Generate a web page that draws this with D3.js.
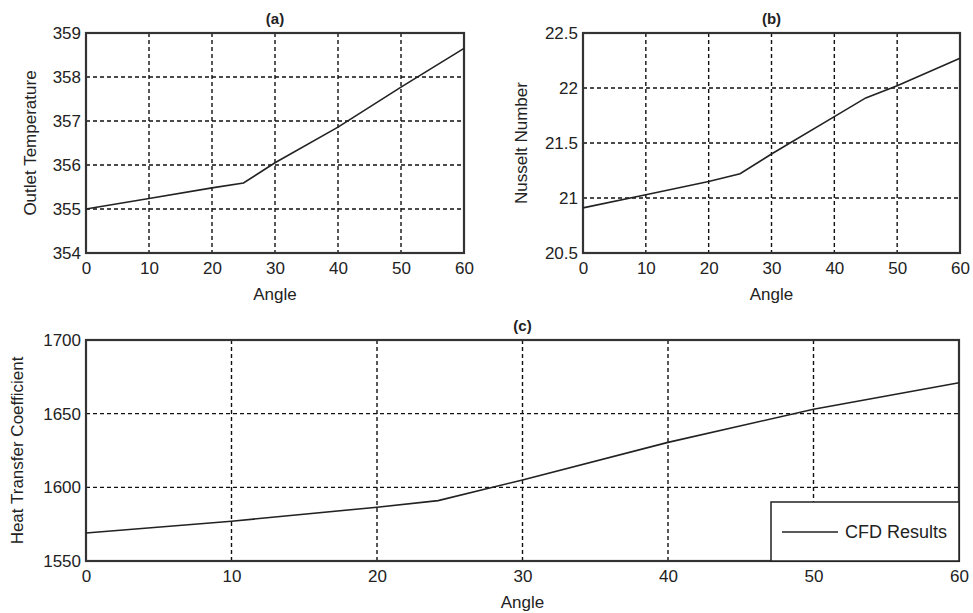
<!DOCTYPE html>
<html>
<head>
<meta charset="utf-8">
<script src="https://cdn.jsdelivr.net/npm/d3@7"></script>
<style>
  body { margin: 0; background: #fff; }
  svg text { font-family: "Liberation Sans", Arial, sans-serif; fill: #222; }
</style>
</head>
<body>
<div id="chart"></div>
<script>
// DATA

const angleTicks = [0, 10, 20, 30, 40, 50, 60];

// (a) outlet temperature
const tempAngle = [0, 10, 20, 25, 30, 40, 50, 60];
const tempValue = [355.0, 355.24, 355.48, 355.59, 356.05, 356.86, 357.77, 358.65];
const tempTicks = [354, 355, 356, 357, 358, 359];

// (b) nusselt number
const nuAngle = [0, 10, 20, 25, 30, 40, 45, 50, 60];
const nuValue = [20.91, 21.03, 21.15, 21.22, 21.4, 21.74, 21.91, 22.02, 22.27];
const nuTicks = [20.5, 21, 21.5, 22, 22.5];

// (c) heat transfer coefficient
const htcAngle = [0, 10, 20, 24.2, 30, 40, 50, 60];
const htcValue = [1569, 1577, 1586.5, 1591, 1605, 1630.5, 1653, 1671];
const htcTicks = [1550, 1600, 1650, 1700];

const legendLabel = "CFD Results";

// SVG CANVAS

const width = 973, height = 613;

const svg = d3.select("#chart")
    .append("svg")
    .attr("width", width)
    .attr("height", height);

function panel(opts) {
    const g = svg.append("g");

    const xScale = d3.scaleLinear()
        .domain([0, 60])
        .range([opts.x0, opts.x1]);

    const yScale = d3.scaleLinear()
        .domain(opts.yDomain)
        .range([opts.y1, opts.y0]);

    // grid
    g.selectAll(".vgrid")
        .data(angleTicks.slice(1, -1))
        .enter()
        .append("line")
        .attr("x1", d => xScale(d)).attr("x2", d => xScale(d))
        .attr("y1", opts.y0).attr("y2", opts.y1)
        .attr("stroke", "#111")
        .attr("stroke-width", 1.4)
        .attr("stroke-dasharray", "4,3");

    g.selectAll(".hgrid")
        .data(opts.yTicks.slice(1, -1))
        .enter()
        .append("line")
        .attr("x1", opts.x0).attr("x2", opts.x1)
        .attr("y1", d => yScale(d)).attr("y2", d => yScale(d))
        .attr("stroke", "#111")
        .attr("stroke-width", 1.4)
        .attr("stroke-dasharray", "4,3");

    // axes
    const xAxis = g.append("g")
        .attr("transform", `translate(0,${opts.y1})`)
        .call(d3.axisBottom(xScale).tickValues(angleTicks).tickSize(0).tickPadding(9));

    const yAxis = g.append("g")
        .attr("transform", `translate(${opts.x0},0)`)
        .call(d3.axisLeft(yScale).tickValues(opts.yTicks).tickSize(0).tickPadding(5).tickFormat(d3.format("")));

    [xAxis, yAxis].forEach(a => {
        a.select(".domain").remove();
        a.attr("font-size", 17);
        a.selectAll("text")
            .attr("fill", "#222")
            .style("font-family", "Liberation Sans, Arial, sans-serif");
    });

    // frame
    g.append("rect")
        .attr("x", opts.x0).attr("y", opts.y0)
        .attr("width", opts.x1 - opts.x0)
        .attr("height", opts.y1 - opts.y0)
        .attr("fill", "none")
        .attr("stroke", "#333")
        .attr("stroke-width", 2.2);

    // line
    const line = d3.line()
        .x((d, i) => xScale(opts.xs[i]))
        .y(d => yScale(d));

    g.append("path")
        .datum(opts.ys)
        .attr("d", line)
        .attr("fill", "none")
        .attr("stroke", "#222")
        .attr("stroke-width", 1.6);

    // labels
    g.append("text")
        .attr("x", (opts.x0 + opts.x1) / 2)
        .attr("y", opts.y0 - 9)
        .attr("text-anchor", "middle")
        .attr("font-size", 15)
        .attr("font-weight", "bold")
        .text(opts.title);

    g.append("text")
        .attr("x", (opts.x0 + opts.x1) / 2)
        .attr("y", opts.y1 + 47)
        .attr("text-anchor", "middle")
        .attr("font-size", 17)
        .text("Angle");

    g.append("text")
        .attr("transform", "rotate(-90)")
        .attr("x", -(opts.y0 + opts.y1) / 2)
        .attr("y", opts.yLabelX)
        .attr("text-anchor", "middle")
        .attr("font-size", 17)
        .text(opts.yLabel);

    return { g, xScale, yScale };
}

panel({
    x0: 86, x1: 464, y0: 33, y1: 253,
    yDomain: [354, 359], yTicks: tempTicks,
    xs: tempAngle, ys: tempValue,
    title: "(a)", yLabel: "Outlet Temperature", yLabelX: 36
});

panel({
    x0: 583, x1: 960, y0: 33, y1: 253,
    yDomain: [20.5, 22.5], yTicks: nuTicks,
    xs: nuAngle, ys: nuValue,
    title: "(b)", yLabel: "Nusselt Number", yLabelX: 527
});

const c = panel({
    x0: 86, x1: 959, y0: 340, y1: 561,
    yDomain: [1550, 1700], yTicks: htcTicks,
    xs: htcAngle, ys: htcValue,
    title: "(c)", yLabel: "Heat Transfer Coefficient", yLabelX: 23
});

// LEGEND

const legend = c.g.append("g");

legend.append("rect")
    .attr("x", 771).attr("y", 502)
    .attr("width", 188).attr("height", 59)
    .attr("fill", "#fff")
    .attr("stroke", "#222")
    .attr("stroke-width", 1.5);

legend.append("line")
    .attr("x1", 782).attr("x2", 838)
    .attr("y1", 532).attr("y2", 532)
    .attr("stroke", "#222")
    .attr("stroke-width", 1.6);

legend.append("text")
    .attr("x", 845).attr("y", 538)
    .attr("font-size", 18)
    .text(legendLabel);
</script>
</body>
</html>
